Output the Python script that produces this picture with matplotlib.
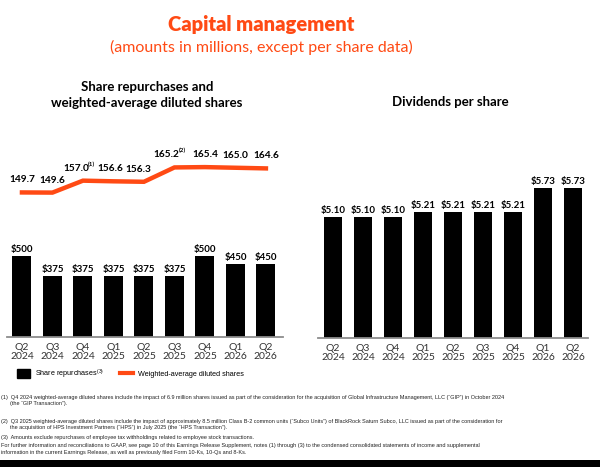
import matplotlib
matplotlib.use('Agg')
import matplotlib.pyplot as plt
from matplotlib.patches import Patch, Rectangle
from matplotlib.lines import Line2D

# data
quarters = ['Q2\n2024', 'Q3\n2024', 'Q4\n2024', 'Q1\n2025', 'Q2\n2025',
            'Q3\n2025', 'Q4\n2025', 'Q1\n2026', 'Q2\n2026']
repurchases = [500, 375, 375, 375, 375, 375, 500, 450, 450]
diluted_shares = [149.7, 149.6, 157.0, 156.6, 156.3, 165.2, 165.4, 165.0, 164.6]
share_notes = ['', '', '(1)', '', '', '(2)', '', '', '']
dividends = [5.10, 5.10, 5.10, 5.21, 5.21, 5.21, 5.21, 5.73, 5.73]

footnotes = [
    '(1)  Q4 2024 weighted-average diluted shares include the impact of 6.9 million shares issued as part of the consideration for the acquisition of Global Infrastructure Management, LLC (\u201cGIP\u201d) in October 2024',
    '      (the \u201cGIP Transaction\u201d).',
    '(2)  Q3 2025 weighted-average diluted shares include the impact of approximately 8.5 million Class B-2 common units (\u201cSubco Units\u201d) of BlackRock Saturn Subco, LLC issued as part of the consideration for',
    '      the acquisition of HPS Investment Partners (\u201cHPS\u201d) in July 2025 (the \u201cHPS Transaction\u201d).',
    '(3)  Amounts exclude repurchases of employee tax withholdings related to employee stock transactions.',
    'For further information and reconciliations to GAAP, see page 10 of this Earnings Release Supplement, notes (1) through (3) to the condensed consolidated statements of income and supplemental',
    'information in the current Earnings Release, as well as previously filed Form 10-Ks, 10-Qs and 8-Ks.',
]

ORANGE = '#ff4a14'
W, H = 600, 467
plt.rcParams['font.family'] = ['Lato', 'DejaVu Sans']
plt.rcParams['mathtext.default'] = 'regular'


def px(x0, y0, x1, y1):
    # pixel box (top-left origin) -> figure fraction rect
    return [x0 / W, 1 - y1 / H, (x1 - x0) / W, (y1 - y0) / H]


def style_axes(ax):
    for s in ['top', 'right', 'left']:
        ax.spines[s].set_visible(False)
    ax.spines['bottom'].set_color('#8c8c8c')
    ax.spines['bottom'].set_linewidth(1.3)
    ax.set_yticks([])
    ax.tick_params(axis='x', length=0, pad=4, labelsize=7.5, colors='#333333')


fig = plt.figure(figsize=(6, 4.67), dpi=100)

fig.text(261 / W, 1 - 25 / H, 'Capital management', ha='center', va='center',
         fontsize=14.5, fontweight='heavy', color=ORANGE)
fig.text(261 / W, 1 - 47 / H, '(amounts in millions, except per share data)',
         ha='center', va='center', fontsize=11.5, color=ORANGE)

# left panel
x = list(range(len(quarters)))
ax1 = fig.add_axes(px(7, 140, 283, 337))
ax1.bar(x, repurchases, width=0.62, color='black')
ax1.set_xlim(-0.49, 8.56)
ax1.set_ylim(0, 1216)
ax1.set_xticks(x)
ax1.set_xticklabels(quarters, linespacing=1.1)
style_axes(ax1)
for i, v in enumerate(repurchases):
    ax1.annotate('${}'.format(v), (i, v), xytext=(0, 1.5), textcoords='offset points',
                 ha='center', va='bottom', fontsize=7, fontweight='bold')

ax1b = ax1.twinx()
ax1b.plot(x, diluted_shares, color=ORANGE, lw=3.2, solid_joinstyle='miter')
ax1b.set_ylim(60.1, 182.2)
ax1b.axis('off')
label_dx = [0, 0, -5, -2, -4, -5.5, 0, 0, 0]
for i, v in enumerate(diluted_shares):
    ax1b.annotate('{:.1f}'.format(v), (i, v), xytext=(label_dx[i], 9),
                  textcoords='offset points', ha='center', va='center',
                  fontsize=7.3, fontweight='bold')
    if share_notes[i]:
        ax1b.annotate(share_notes[i], (i, v), xytext=(label_dx[i] + 8.5, 12),
                      textcoords='offset points', ha='left', va='center',
                      fontsize=4.5, fontweight='bold')

fig.text(147 / W, 1 - 95 / H, 'Share repurchases and\nweighted-average diluted shares',
         ha='center', va='center', fontsize=9.5, fontweight='bold', linespacing=1.35)

# right panel
ax2 = fig.add_axes(px(318, 140, 588, 338))
ax2.bar(x, dividends, width=0.63, color='black')
ax2.set_xlim(-0.5, 8.5)
ax2.set_ylim(2.47, 6.77)
ax2.set_xticks(x)
ax2.set_xticklabels(quarters, linespacing=1.1)
style_axes(ax2)
for i, v in enumerate(dividends):
    ax2.annotate('${:.2f}'.format(v), (i, v), xytext=(0, 1.5), textcoords='offset points',
                 ha='center', va='bottom', fontsize=7, fontweight='bold')

fig.text(450 / W, 1 - 102 / H, 'Dividends per share', ha='center', va='center',
         fontsize=9.5, fontweight='bold')

# legend
handles = [Patch(facecolor='black', edgecolor='black'),
           Line2D([0], [0], color=ORANGE, lw=3)]
fig.legend(handles, ['Share repurchases$^{(3)}$', 'Weighted-average diluted shares'],
           loc='center left', bbox_to_anchor=(10 / W, 1 - 374 / H), ncol=2,
           frameon=False, handlelength=1.8, handleheight=1.5, columnspacing=2.2,
           handletextpad=0.7, prop={'family': 'Liberation Sans', 'size': 5.2})

# footnotes
ys = [397, 403.5, 421, 428, 438, 446, 452.5]
for t, y in zip(footnotes, ys):
    fig.text(1 / W, 1 - y / H, t, ha='left', va='center', fontsize=4.0,
             family='Liberation Sans', color='#222222')

fig.patches.append(Rectangle((0, 0), 1, 7 / H, transform=fig.transFigure,
                             facecolor='black', edgecolor='none'))

fig.savefig('out.png', dpi=100)
